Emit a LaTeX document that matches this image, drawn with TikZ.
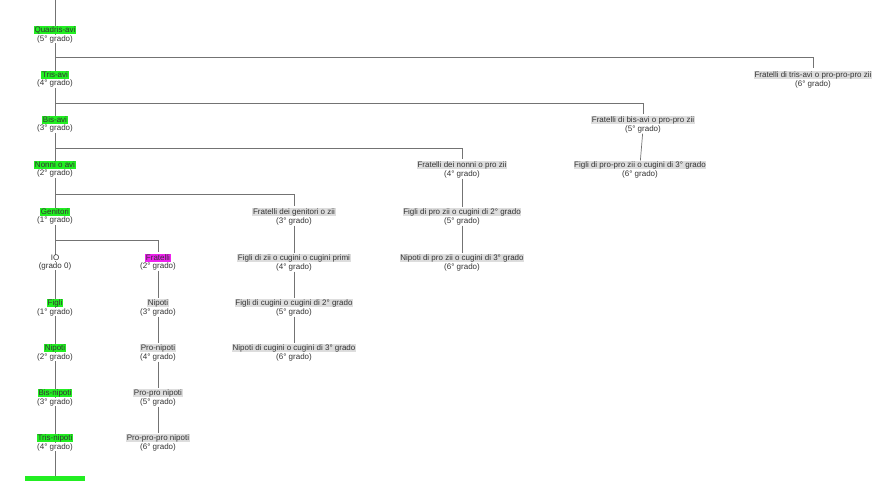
\documentclass[tikz,border=0pt]{standalone}
\usepackage{fontspec}
\setmainfont{Liberation Sans}
\usetikzlibrary{positioning}
\definecolor{verde}{HTML}{22EE22}
\definecolor{viola}{HTML}{EE22EE}
\definecolor{grigio}{HTML}{DDDDDD}
\definecolor{testo}{HTML}{333333}
\tikzset{
  tit/.style={fill=#1,inner sep=0.6pt,text=testo,font=\fontsize{8}{9}\selectfont},
  tit/.default=white,
  grd/.style={fill=white,inner sep=0.6pt,text=testo,font=\fontsize{8}{9}\selectfont},
  ram/.style={draw=gray!90!black,line width=0.7pt}
}
% parente: nome, x, y, titolo, grado, colore
\newcommand{\parente}[6]{%
  \node[tit=#6] (#1) at (#2,#3) {#4};
  \node[grd,below=0pt of #1] (#1-g) {(#5)};
}
\begin{document}
\begin{tikzpicture}[x=1pt,y=-1pt]
    \useasboundingbox (0,0) rectangle (880,480);
    \coordinate (cima) at (55,0);
    \coordinate (fondo) at (55,476);
    \fill[verde] (25,476) rectangle (85,490);

    %Colonna principale
    \begin{scope}[on background layer/.style={}]
    \end{scope}
    \draw[ram] (cima)--(fondo);
    \draw[ram] (55,57)-|(813,68);
    \draw[ram] (55,103)-|(643,114);
    \draw[ram] (55,148)-|(462,159);
    \draw[ram] (55,194)-|(294,206);
    \draw[ram] (55,240)-|(158,252);

    \parente{qa}{55}{30}{Quadris-avi}{5° grado}{verde}
    \parente{ta}{55}{75}{Tris-avi}{4° grado}{verde}
    \parente{ba}{55}{120}{Bis-avi}{3° grado}{verde}
    \parente{na}{55}{165}{Nonni o avi}{2° grado}{verde}
    \parente{ge}{55}{212}{Genitori}{1° grado}{verde}
    \node[tit] (io) at (55,258) {IO};
    \node[grd,below=0pt of io] (io-g) {(grado 0)};
    \parente{fi}{55}{303}{Figli}{1° grado}{verde}
    \parente{ni}{55}{348}{Nipoti}{2° grado}{verde}
    \parente{bn}{55}{393}{Bis-nipoti}{3° grado}{verde}
    \parente{tn}{55}{438}{Tris-nipoti}{4° grado}{verde}

    %Fratelli
    \parente{fr}{158}{258}{Fratelli}{2° grado}{viola}
    \parente{fn}{158}{303}{Nipoti}{3° grado}{grigio}
    \parente{pn}{158}{348}{Pro-nipoti}{4° grado}{grigio}
    \parente{ppn}{158}{393}{Pro-pro nipoti}{5° grado}{grigio}
    \parente{pppn}{158}{438}{Pro-pro-pro nipoti}{6° grado}{grigio}
    \draw[ram] (fr-g)--(fn) (fn-g)--(pn) (pn-g)--(ppn) (ppn-g)--(pppn);

    %Zii
    \parente{zi}{294}{212}{Fratelli dei genitori o zii}{3° grado}{grigio}
    \parente{cp}{294}{258}{Figli di zii o cugini o cugini primi}{4° grado}{grigio}
    \parente{c2}{294}{303}{Figli di cugini o cugini di 2° grado}{5° grado}{grigio}
    \parente{c3}{294}{348}{Nipoti di cugini o cugini di 3° grado}{6° grado}{grigio}
    \draw[ram] (zi-g)--(cp) (cp-g)--(c2) (c2-g)--(c3);

    %Pro zii
    \parente{pz}{462}{165}{Fratelli dei nonni o pro zii}{4° grado}{grigio}
    \parente{pzf}{462}{212}{Figli di pro zii o cugini di 2° grado}{5° grado}{grigio}
    \parente{pzn}{462}{258}{Nipoti di pro zii o cugini di 3° grado}{6° grado}{grigio}
    \draw[ram] (pz-g)--(pzf) (pzf-g)--(pzn);

    %Pro-pro zii
    \parente{ppz}{643}{120}{Fratelli di bis-avi o pro-pro zii}{5° grado}{grigio}
    \parente{ppzf}{640}{165}{Figli di pro-pro zii o cugini di 3° grado}{6° grado}{grigio}
    \draw[ram] (ppz-g)--(ppzf);

    \parente{pppz}{813}{75}{Fratelli di tris-avi o pro-pro-pro zii}{6° grado}{grigio}
\end{tikzpicture}
\end{document}
